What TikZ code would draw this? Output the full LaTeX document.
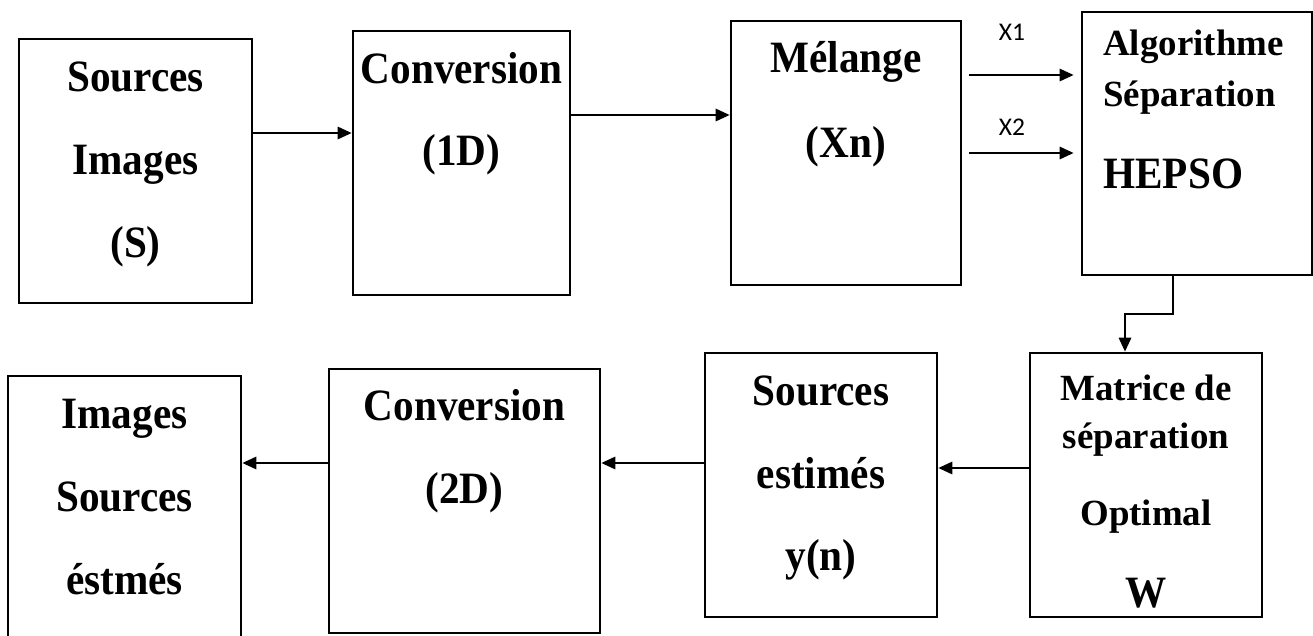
\documentclass[tikz,border=0pt]{standalone}
\usepackage{fontspec}
\setmainfont{Liberation Serif}
\newfontfamily\narrowfont[FakeStretch=0.92]{Liberation Serif}
\newfontfamily\lblfont{Carlito}
\usetikzlibrary{arrows.meta}
\newdimen\pxu \pxu=0.02cm
\tikzset{
  blk/.style={draw, line width=1.5pt, inner sep=0pt},
  txt/.style={anchor=base, inner sep=0pt, font=\narrowfont\fontsize{25.5}{29}\selectfont\bfseries},
  txtsm/.style={txt, font=\fontsize{21}{25}\selectfont\bfseries},
  xlbl/.style={inner sep=0pt, font=\lblfont\fontsize{14.5}{17}\selectfont},
  flow/.style={line width=1.3pt, -{Triangle[length=8pt,width=7pt]}}
}
\begin{document}
\begin{tikzpicture}[x=0.02cm,y=-0.02cm]
\useasboundingbox (0,0) rectangle (1313,636);
\clip (0,0) rectangle (1313,636);
% top row
\node[blk, minimum width=233\pxu, minimum height=264\pxu] (src) at (135.5,171) {};
\node[blk, minimum width=217\pxu, minimum height=264\pxu] (conv1) at (461.5,163) {};
\node[blk, minimum width=230\pxu, minimum height=264\pxu] (mix) at (846,153) {};
\node[blk, minimum width=230\pxu, minimum height=263\pxu] (hepso) at (1197,143.5) {};
% bottom row
\node[blk, minimum width=232\pxu, minimum height=264\pxu] (matw) at (1146,485) {};
\node[blk, minimum width=232\pxu, minimum height=264\pxu] (est) at (821,485) {};
\node[blk, minimum width=271\pxu, minimum height=264\pxu] (conv2) at (464.5,501) {};
\node[blk, minimum width=233\pxu, minimum height=264\pxu] (out) at (124.5,508) {};
% texts
\node[txt] (t1a) at (135.5,91) {Sources};
\node[txt] (t1b) at (135.5,174) {Images};
\node[txt] (t1c) at (135.5,257) {(S)};
\node[txt] (t2a) at (461.5,83) {Conversion};
\node[txt] (t2b) at (461.5,165) {(1D)};
\node[txt] (t3a) at (846,72) {Mélange};
\node[txt] (t3b) at (846,157) {(Xn)};
\node[txtsm, anchor=base west] (t4a) at (1103,55) {Algorithme};
\node[txtsm, anchor=base west] (t4b) at (1103,106) {Séparation};
\node[txt, anchor=base west] (t4c) at (1103,188) {HEPSO};
\node[txtsm] (t5a) at (1146,400) {Matrice de};
\node[txtsm] (t5b) at (1146,448) {séparation};
\node[txtsm] (t5c) at (1146,525) {Optimal};
\node[txt] (t5d) at (1146,607) {W};
\node[txt] (t6a) at (821,405) {Sources};
\node[txt] (t6b) at (821,488) {estimés};
\node[txt] (t6c) at (821,570) {y(n)};
\node[txt] (t7a) at (464.5,420) {Conversion};
\node[txt] (t7b) at (464.5,503) {(2D)};
\node[txt] (t8a) at (124.5,428) {Images};
\node[txt] (t8b) at (124.5,511) {Sources};
\node[txt] (t8c) at (124.5,594) {éstmés};
\node[xlbl] (x1) at (1012,32) {X1};
\node[xlbl] (x2) at (1012,127) {X2};
% arrows
\draw[flow] (src.east |- 0,133) -- (conv1.west |- 0,133);
\draw[flow] (conv1.east |- 0,115) -- (mix.west |- 0,115);
\draw[flow, shorten <=4pt, shorten >=4pt] (mix.east |- 0,75) -- (hepso.west |- 0,75);
\draw[flow, shorten <=4pt, shorten >=4pt] (mix.east |- 0,153) -- (hepso.west |- 0,153);
\draw[flow] (hepso.south -| 1173,0) -- ++(0,38) -| (matw.north -| 1125,0);
\draw[flow] (matw.west |- 0,468) -- (est.east |- 0,468);
\draw[flow] (est.west |- 0,463) -- (conv2.east |- 0,463);
\draw[flow] (conv2.west |- 0,463) -- (out.east |- 0,463);
\end{tikzpicture}
\end{document}
